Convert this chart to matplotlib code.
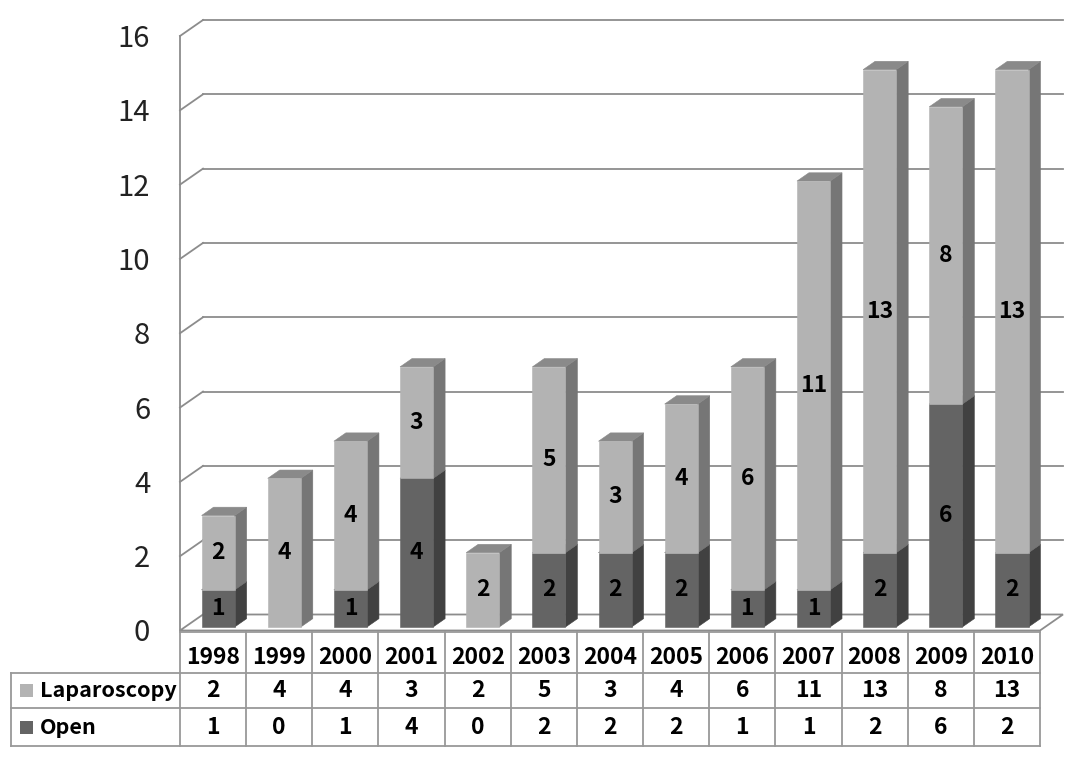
import matplotlib.pyplot as plt
from matplotlib.patches import Polygon, Rectangle

years = ['1998', '1999', '2000', '2001', '2002', '2003', '2004',
         '2005', '2006', '2007', '2008', '2009', '2010']
laparoscopy = [2, 4, 4, 3, 2, 5, 3, 4, 6, 11, 13, 8, 13]
open_surg = [1, 0, 1, 4, 0, 2, 2, 2, 1, 1, 2, 6, 2]
series_names = ['Laparoscopy', 'Open']
yticks = [0, 2, 4, 6, 8, 10, 12, 14, 16]

plt.rcParams['font.family'] = ['Noto Sans CJK KR', 'DejaVu Sans']

# colours: front, side, top
lap_col = ('#b3b3b3', '#767676', '#8a8a8a')
open_col = ('#646464', '#414141', '#535353')
grid_col = '#8c8c8c'

W, H = 1080, 757
fig = plt.figure(figsize=(W / 100, H / 100), dpi=100)

n = len(years)
# main 3d-looking axes, front wall from x=180..1040 px, y=630.5..36 px
ax = fig.add_axes([180 / W, (H - 630.5) / H, 860 / W, 594.5 / H])
ax.set_xlim(0, n)
ax.set_ylim(0, 16)
ax.axis('off')

DX = 23 / (860 / n)     # depth shift in category units
DY = 16 / (594.5 / 16)  # depth shift in value units


def proj(x, y, z):
    return (x + z * DX, y + z * DY)


def poly(pts, color, **kw):
    p = Polygon(pts, closed=True, facecolor=color, edgecolor=color,
                linewidth=0.4, clip_on=False, **kw)
    ax.add_patch(p)


# floor
floor = [proj(0, 0, 0), proj(n, 0, 0), proj(n, 0, 1), proj(0, 0, 1)]
ax.add_patch(Polygon(floor, closed=True, facecolor='white', edgecolor=grid_col,
                     linewidth=1.3, clip_on=False, zorder=1))

# walls and gridlines
for v in yticks[1:]:
    a = proj(0, v, 1)
    b = proj(n, v, 1)
    ax.plot([a[0], b[0]], [a[1], b[1]], color=grid_col, lw=1.3, clip_on=False, zorder=1)
    c = proj(0, v, 0)
    ax.plot([c[0], a[0]], [c[1], a[1]], color=grid_col, lw=1.3, clip_on=False, zorder=1)
ax.plot([0, 0], [0, 16], color=grid_col, lw=1.3, clip_on=False, zorder=1)

for v in yticks:
    ax.text(-0.45, v - 0.08, str(v), ha='right', va='center', fontsize=21,
            color='#222222')

# bars
zf, zb = 0.22, 0.74
bw = 0.5
for i in range(n):
    x0 = i + 0.5 - bw / 2
    x1 = i + 0.5 + bw / 2
    base = 0
    for val, col in ((open_surg[i], open_col), (laparoscopy[i], lap_col)):
        if val == 0:
            continue
        top = base + val
        front = [proj(x0, base, zf), proj(x1, base, zf), proj(x1, top, zf), proj(x0, top, zf)]
        side = [proj(x1, base, zf), proj(x1, base, zb), proj(x1, top, zb), proj(x1, top, zf)]
        lid = [proj(x0, top, zf), proj(x1, top, zf), proj(x1, top, zb), proj(x0, top, zb)]
        poly(side, col[1], zorder=3)
        poly(lid, col[2], zorder=3)
        poly(front, col[0], zorder=4)
        cx, cy = proj(i + 0.5, base + val / 2, zf)
        ax.text(cx, cy, str(val), ha='center', va='center', fontsize=16.5,
                fontweight='bold', color='black', zorder=5)
        base = top

# data table below
tx0 = 11
tax = fig.add_axes([tx0 / W, (H - 746) / H, (1040 - tx0) / W, 114 / H])
left = -(180 - tx0) / (860 / n)
tax.set_xlim(left, n)
tax.set_ylim(114, 0)
tax.axis('off')
row_edges = [0, 41, 76, 114]
lc = '#999999'
lw = 1.3
# horizontal lines
tax.plot([0, n], [0, 0], color=lc, lw=lw, clip_on=False)
for yy in row_edges[1:]:
    tax.plot([left, n], [yy, yy], color=lc, lw=lw, clip_on=False)
# vertical lines
for k in range(n + 1):
    tax.plot([k, k], [0, 114], color=lc, lw=lw, clip_on=False)
tax.plot([left, left], [41, 114], color=lc, lw=lw, clip_on=False)

for i, yr in enumerate(years):
    tax.text(i + 0.5, 26, yr, ha='center', va='center', fontsize=16.5,
             fontweight='bold')
    tax.text(i + 0.5, 58.5, str(laparoscopy[i]), ha='center', va='center',
             fontsize=16.5, fontweight='bold')
    tax.text(i + 0.5, 95, str(open_surg[i]), ha='center', va='center',
             fontsize=16.5, fontweight='bold')

px = 860 / n
for name, col, yc in ((series_names[0], lap_col[0], 58.5), (series_names[1], open_col[0], 95)):
    tax.add_patch(Rectangle((left + 9 / px, yc - 6.5), 13 / px, 13,
                            facecolor=col, edgecolor='none'))
    tax.text(left + 29 / px, yc, name, ha='left', va='center', fontsize=15.5,
             fontweight='bold')

fig.savefig('out.png', dpi=100)
